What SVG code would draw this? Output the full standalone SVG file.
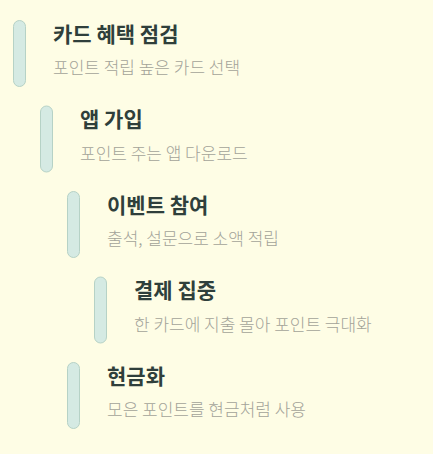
<svg xmlns="http://www.w3.org/2000/svg" width="433" height="454" viewBox="0 0 433 454">
<style>
.bg{fill:#fefde5}
.bar{fill:#d5eae3;stroke:#b6d2c6;stroke-width:1}
.t{font-family:"Noto Sans CJK KR","Noto Sans",sans-serif;font-weight:700;font-size:21px;fill:#2f3f3b}
.s{font-family:"Noto Sans CJK KR","Noto Sans",sans-serif;font-weight:300;font-size:17px;fill:#a3a399}
</style>
<rect class="bg" x="0" y="0" width="433" height="454"/>
<g id="connectors"></g>
<g id="n1">
<rect class="bar" x="13.5" y="20.5" width="12" height="66" rx="6"/>
<text class="t" x="53" y="41.5">카드 혜택 점검</text>
<text class="s" x="53" y="74">포인트 적립 높은 카드 선택</text>
</g>
<g id="n2">
<rect class="bar" x="40.5" y="106" width="12" height="66" rx="6"/>
<text class="t" x="80" y="127">앱 가입</text>
<text class="s" x="80" y="159.5">포인트 주는 앱 다운로드</text>
</g>
<g id="n3">
<rect class="bar" x="67.5" y="191.5" width="12" height="66" rx="6"/>
<text class="t" x="107" y="212.5">이벤트 참여</text>
<text class="s" x="107" y="245">출석, 설문으로 소액 적립</text>
</g>
<g id="n4">
<rect class="bar" x="94.5" y="277" width="12" height="66" rx="6"/>
<text class="t" x="134" y="298">결제 집중</text>
<text class="s" x="134" y="330.5">한 카드에 지출 몰아 포인트 극대화</text>
</g>
<g id="n5">
<rect class="bar" x="67.5" y="362.5" width="12" height="66" rx="6"/>
<text class="t" x="107" y="383.5">현금화</text>
<text class="s" x="107" y="416">모은 포인트를 현금처럼 사용</text>
</g>
</svg>
